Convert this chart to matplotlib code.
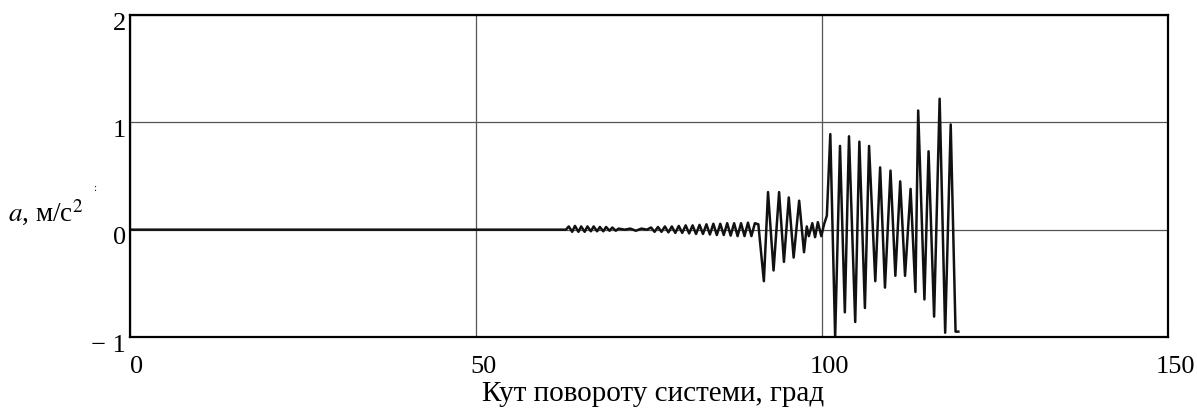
import matplotlib
matplotlib.use("Agg")
import matplotlib.pyplot as plt
from matplotlib.transforms import ScaledTranslation

plt.rcParams['font.family'] = ['Liberation Serif', 'DejaVu Serif']
plt.rcParams['mathtext.fontset'] = 'stix'

# Angle (deg) and acceleration (m/s^2) turning points
angle = [0.0, 63.0,
         63.4, 63.9, 64.3, 64.8, 65.2, 65.7, 66.1, 66.6, 67.0, 67.5, 67.9, 68.4,
         68.8, 69.3, 69.7, 70.2, 70.6,
         71.5, 72.3, 73.1, 73.9, 74.7,
         75.3, 75.8, 76.3, 76.8, 77.3, 77.8, 78.3, 78.8, 79.3, 79.8, 80.3, 80.8,
         81.3, 81.8, 82.3, 82.8, 83.3, 83.8, 84.3, 84.8, 85.3, 85.8, 86.3, 86.8,
         87.3, 87.8, 88.3, 88.8, 89.3, 89.8, 90.3, 90.8,
         91.6, 92.2, 93.0, 93.8, 94.5, 95.2, 95.9, 96.7, 97.4,
         97.8, 98.1, 98.6, 99.0, 99.4, 99.9, 100.3, 100.7,
         101.2, 101.9, 102.6, 103.3, 103.9, 104.8, 105.4, 106.2, 106.8, 107.7,
         108.4, 109.1, 109.9, 110.6, 111.3, 112.0, 112.8, 113.5, 113.9, 114.8,
         115.4, 116.2, 117.0, 117.8, 118.6, 119.3, 119.7]
accel = [0.0, 0.0,
         0.03, -0.02, 0.035, -0.02, 0.03, -0.02, 0.03, -0.015, 0.03, -0.015, 0.025, -0.015,
         0.025, -0.01, 0.02, -0.01, 0.01,
         0.0, 0.01, -0.01, 0.01, 0.0,
         0.02, -0.02, 0.025, -0.02, 0.03, -0.025, 0.03, -0.03, 0.035, -0.03, 0.04, -0.035,
         0.04, -0.04, 0.045, -0.04, 0.05, -0.045, 0.055, -0.05, 0.055, -0.05, 0.06, -0.055,
         0.06, -0.06, 0.06, -0.06, 0.065, -0.06, 0.06, 0.05,
         -0.48, 0.35, -0.38, 0.35, -0.30, 0.30, -0.26, 0.27, -0.21,
         0.03, -0.06, 0.06, -0.07, 0.07, -0.06, 0.05, 0.13,
         0.89, -1.0, 0.78, -0.77, 0.87, -0.86, 0.82, -0.73, 0.78, -0.48,
         0.58, -0.54, 0.55, -0.43, 0.45, -0.43, 0.38, -0.58, 1.11, -0.65,
         0.73, -0.81, 1.22, -0.96, 0.98, -0.95, -0.95]

x_ticks = [0, 50, 100, 150]
x_tick_labels = ['0', '50', '100', '150']
y_ticks = [-1, 0, 1, 2]
y_tick_labels = ['\u2212 1', '0', '1', '2']

W, H = 1197, 411
fig = plt.figure(figsize=(W / 100, H / 100), dpi=100)
L, R, T, B = 130, 1168, 15, 337
ax = fig.add_axes([L / W, 1 - B / H, (R - L) / W, (B - T) / H])

ax.plot(angle, accel, color='#111111', lw=1.8, solid_joinstyle='round', clip_on=True)

ax.set_xlim(0, 150)
ax.set_ylim(-1, 2)
ax.set_xticks(x_ticks)
ax.set_xticklabels(x_tick_labels)
ax.set_yticks(y_ticks)
ax.set_yticklabels(y_tick_labels)
ax.tick_params(length=0, labelsize=19, pad=3)
ax.tick_params(axis='x', pad=14)
ax.grid(True, color='#555555', lw=0.9)
ax.set_axisbelow(True)
for s in ax.spines.values():
    s.set_linewidth(1.6)
    s.set_color('black')

off_x = ScaledTranslation(7 / 100, 0, fig.dpi_scale_trans)
for lab in ax.get_xticklabels():
    lab.set_transform(lab.get_transform() + off_x)
off_y = ScaledTranslation(0, -6 / 100, fig.dpi_scale_trans)
for lab in ax.get_yticklabels():
    lab.set_transform(lab.get_transform() + off_y)

fig.text(653 / W, 1 - 394 / H, 'Кут повороту системи, град', ha='center', va='center', fontsize=21)
fig.text(8 / W, 1 - 213 / H, r'$\mathit{a}$, м/с$^{\mathrm{2}}$', ha='left', va='center', fontsize=19.5)
fig.text(95 / W, 1 - 188 / H, ':', ha='center', va='center', fontsize=8)

fig.savefig('out.png', dpi=100)
